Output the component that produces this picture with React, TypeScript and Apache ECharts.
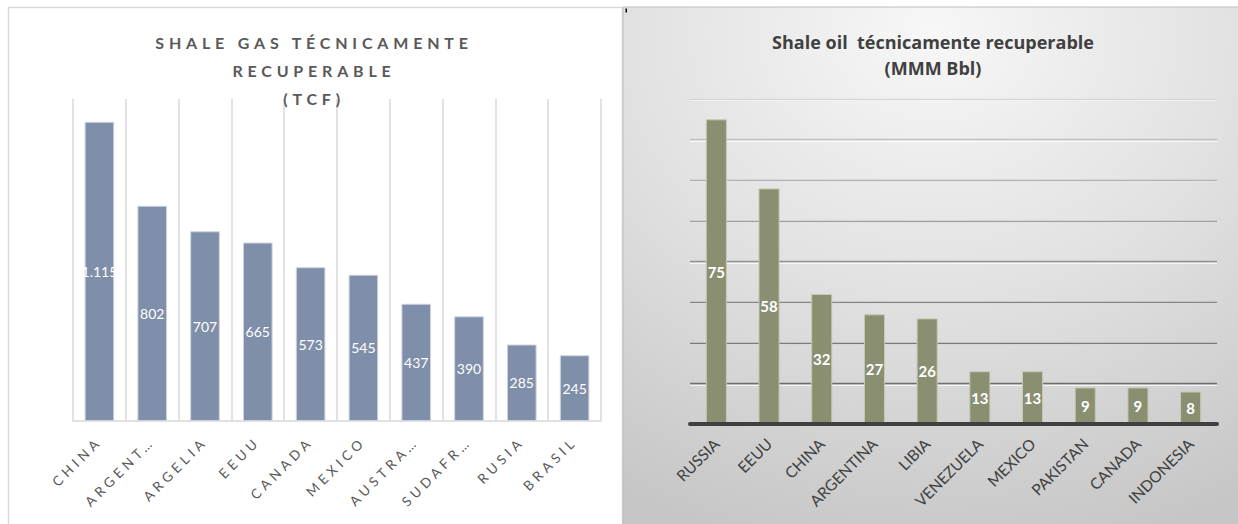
import { useEffect, useRef } from 'react';
import * as echarts from 'echarts';

const gasCountries = ['CHINA', 'ARGENTINA', 'ARGELIA', 'EEUU', 'CANADA', 'MEXICO', 'AUSTRALIA', 'SUDAFRICA', 'RUSIA', 'BRASIL'];
const gasValues = [1115, 802, 707, 665, 573, 545, 437, 390, 285, 245];
const oilCountries = ['RUSSIA', 'EEUU', 'CHINA', 'ARGENTINA', 'LIBIA', 'VENEZUELA', 'MEXICO', 'PAKISTAN', 'CANADA', 'INDONESIA'];
const oilValues = [75, 58, 32, 27, 26, 13, 13, 9, 9, 8];
const gasTitleLines = ['SHALE GAS TÉCNICAMENTE', 'RECUPERABLE', '(TCF)'];
const oilTitleLines = ['Shale oil  técnicamente recuperable', '(MMM Bbl)'];
const gasAxisMax = 1200;
const oilAxisMax = 80;
const oilAxisInterval = 10;

const SPACED = '#595959';

function fmtThousands(v: number): string {
  const s = String(v);
  return s.replace(/\B(?=(\d{3})+(?!\d))/g, '.');
}

export default function App() {
  const ref = useRef<HTMLDivElement>(null);
  useEffect(() => {
    if (!ref.current) return;
    const el = ref.current;
    const chart = echarts.init(el, undefined, { renderer: 'svg' });
    const font = 'Lato';
    const option: any = {
      animation: false,
      backgroundColor: '#ffffff',
      graphic: [
        {
          type: 'rect', z: -100, silent: true,
          shape: { x: 8.5, y: 7.5, width: 614, height: 530 },
          style: { fill: '#ffffff', stroke: '#d9d9d9', lineWidth: 1.5 },
        },
        {
          type: 'rect', z: -100, silent: true,
          shape: { x: 623, y: 7, width: 620, height: 530 },
          style: {
            fill: {
              type: 'radial', x: 0.5, y: 0.05, r: 1.0,
              colorStops: [
                { offset: 0, color: '#f7f7f7' },
                { offset: 0.5, color: '#e1e1e1' },
                { offset: 1, color: '#c6c6c6' },
              ],
            },
            stroke: '#bdbdbd', lineWidth: 1,
          },
        },
        {
          type: 'rect', z: -99, silent: true,
          shape: { x: 625.5, y: 8.5, width: 1.5, height: 4 },
          style: { fill: '#000000' },
        },
        {
          type: 'text', z: 100, silent: true, x: 314, y: 28,
          style: {
            text: gasTitleLines.join('\n'),
            fill: SPACED, fontSize: 16, fontWeight: 'bold', fontFamily: font,
            lineHeight: 28, align: 'center', verticalAlign: 'top',
            textAlign: 'center', textVerticalAlign: 'top',
          },
        },
        {
          type: 'text', z: 100, silent: true, x: 933, y: 29,
          style: {
            text: oilTitleLines.join('\n'),
            fill: '#404040', fontSize: 18, fontWeight: 'bold', fontFamily: 'Open Sans',
            lineHeight: 26, align: 'center', verticalAlign: 'top',
            textAlign: 'center', textVerticalAlign: 'top',
          },
        },
      ],
      grid: [
        { left: 73, top: 99, width: 528, height: 322 },
        { left: 690, top: 99, width: 527, height: 325 },
        { left: 690, top: 100.4, width: 527, height: 325 },
      ],
      xAxis: [
        {
          gridIndex: 0, type: 'category', data: gasCountries,
          axisLine: { lineStyle: { color: '#d9d9d9', width: 1.5 } },
          axisTick: { show: false },
          splitLine: { show: true, lineStyle: { color: '#d9d9d9', width: 1.5 } },
          axisLabel: {
            interval: 0, rotate: 45, margin: 18, color: SPACED, fontSize: 13.5, fontFamily: font,
            formatter: (v: string) => (v.length > 8 ? v.slice(0, 6) + '…' : v),
          },
        },
        {
          gridIndex: 1, type: 'category', data: oilCountries, z: 3,
          axisLine: { lineStyle: { color: '#404040', width: 4 } },
          axisTick: { show: false },
          axisLabel: { interval: 0, rotate: 45, margin: 17, color: '#404040', fontSize: 15.5, fontFamily: font },
        },
        {
          gridIndex: 2, type: 'category', data: oilCountries, show: false,
        },
      ],
      yAxis: [
        { gridIndex: 0, type: 'value', min: 0, max: gasAxisMax, show: false },
        {
          gridIndex: 1, type: 'value', min: 0, max: oilAxisMax, interval: oilAxisInterval, z: 1,
          axisLabel: { show: false }, axisLine: { show: false }, axisTick: { show: false },
          splitLine: {
            show: true,
            lineStyle: {
              color: ['#555555', '#6e6e6e', '#7a7a7a', '#868686', '#939393', '#a1a1a1', '#b1b1b1', '#c2c2c2', '#d6d6d6'],
              width: 1.3,
            },
          },
        },
        {
          gridIndex: 2, type: 'value', min: 0, max: oilAxisMax, interval: oilAxisInterval, z: 0,
          axisLabel: { show: false }, axisLine: { show: false }, axisTick: { show: false },
          splitLine: { show: true, lineStyle: { color: 'rgba(255,255,255,0.75)', width: 1 } },
        },
      ],
      series: [
        {
          type: 'bar', xAxisIndex: 0, yAxisIndex: 0, data: gasValues, barWidth: '56%',
          itemStyle: { color: '#7f8ea9', borderColor: '#cdd3de', borderWidth: 1 },
          label: {
            show: true, position: 'inside', color: '#ffffff', fontSize: 14, fontFamily: font,
            formatter: (p: any) => fmtThousands(p.value),
          },
        },
        {
          type: 'bar', xAxisIndex: 1, yAxisIndex: 1, data: oilValues, barWidth: '40%',
          itemStyle: { color: '#8a8f72', borderColor: '#c6c9b3', borderWidth: 1 },
          label: {
            show: true, position: 'inside', color: '#ffffff', fontSize: 15, fontWeight: 'bold', fontFamily: font,
          },
        },
      ],
    };
    chart.setOption(option);
    const apply = () => {
      el.querySelectorAll('text').forEach((t) => {
        const fill = (t.getAttribute('fill') || '') + ' ' + (t.getAttribute('style') || '');
        const isSpaced = fill.toLowerCase().includes('#595959') || fill.includes('89,89,89') || fill.includes('89, 89, 89');
        if (!isSpaced) return;
        const txt = (t.textContent || '').trim();
        const sp = gasTitleLines.includes(txt) ? 4.8 : 4.2;
        t.setAttribute('letter-spacing', String(sp));
      });
    };
    apply();
    chart.on('finished', apply);
    const tm = setTimeout(apply, 50);
    return () => {
      clearTimeout(tm);
      chart.dispose();
    };
  }, []);
  return <div ref={ref} style={{ position: 'fixed', left: 0, top: 0, width: 1238, height: 524 }} />;
}
